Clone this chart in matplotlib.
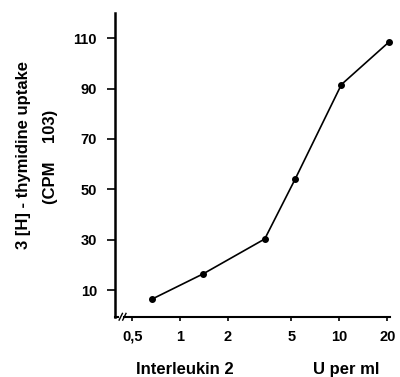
import matplotlib.pyplot as plt

# IL-2 dose response
dose = [0.67, 1.4, 3.4, 5.3, 10.3, 20.5]
uptake = [6.5, 16.5, 30.3, 54.3, 91.6, 108.5]

x_ticks = [0.5, 1, 2, 5, 10, 20]
x_tick_labels = ["0,5", "1", "2", "5", "10", "20"]
y_ticks = [10, 30, 50, 70, 90, 110]

plt.rcParams['font.family'] = ['Liberation Sans', 'DejaVu Sans']

fig = plt.figure(figsize=(4.0, 3.77), dpi=100)
ax = fig.add_axes([0.2875, 0.159, 0.6875, 0.8065])

ax.plot(dose, uptake, color='black', lw=1.2, marker='o', markersize=4,
        clip_on=False)

ax.set_xscale('log')
ax.set_xlim(0.39, 20.8)
ax.set_ylim(-0.7, 120)
ax.set_xticks(x_ticks)
ax.set_xticklabels(x_tick_labels)
ax.minorticks_off()
ax.set_yticks(y_ticks)

for side in ['top', 'right']:
    ax.spines[side].set_visible(False)
ax.spines['left'].set_linewidth(1.8)
ax.spines['bottom'].set_linewidth(1.5)
ax.spines['bottom'].set_bounds(0.445, 20.8)

ax.tick_params(axis='y', direction='out', length=6, width=1.2, labelsize=10.5, pad=7)
ax.tick_params(axis='x', direction='out', length=3, width=1.2, labelsize=10.5, pad=6)
for lbl in ax.get_xticklabels() + ax.get_yticklabels():
    lbl.set_fontweight('bold')

# axis break near the origin
ax.plot([0, 0.012], [0, 0], transform=ax.transAxes, color='black', lw=1.5,
        clip_on=False)
for dx in [0.015, 0.028]:
    ax.plot([dx, dx + 0.012], [-0.01, 0.012], transform=ax.transAxes,
            color='black', lw=1.0, clip_on=False)

fig.text(0.06, 0.589, "3 [H] - thymidine uptake", rotation=90, ha='center',
         va='center', fontsize=12, fontweight='bold')
fig.text(0.125, 0.585, "(CPM    103)", rotation=90, ha='center', va='center',
         fontsize=12, fontweight='bold')

fig.text(0.34, 0.008, "Interleukin 2", ha='left', va='baseline', fontsize=12,
         fontweight='bold')
fig.text(0.782, 0.008, "U per ml", ha='left', va='baseline', fontsize=12,
         fontweight='bold')

fig.savefig('out.png', dpi=100)
